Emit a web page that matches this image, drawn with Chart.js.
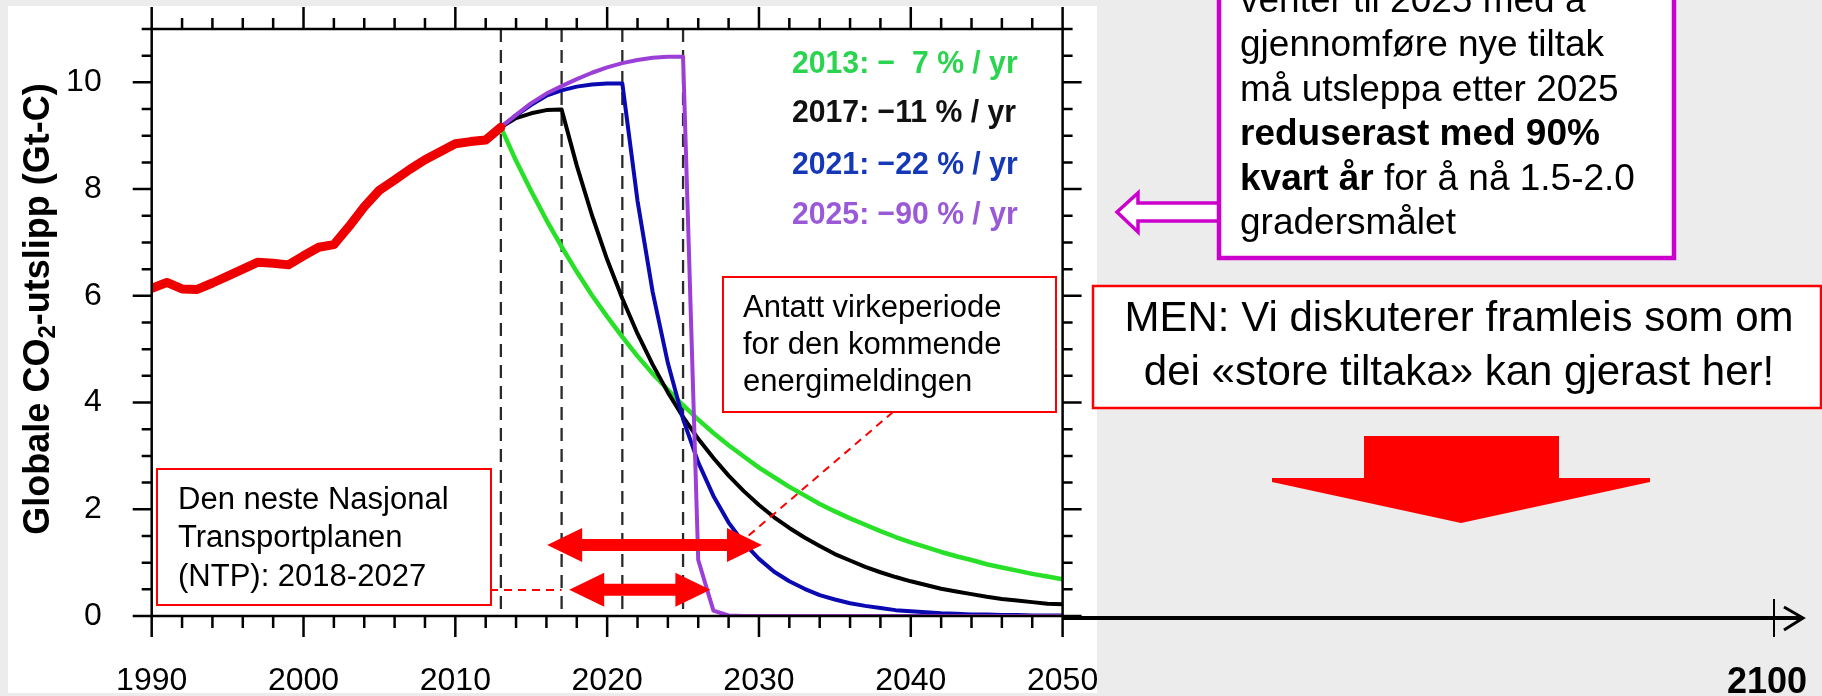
<!DOCTYPE html>
<html>
<head>
<meta charset="utf-8">
<script src="https://cdn.jsdelivr.net/npm/chart.js@4"></script>
<style>
html, body { margin: 0; padding: 0; background: #ececec; overflow: hidden; }
#wrap { width: 1822px; height: 696px; }
</style>
</head>
<body>
<div id="wrap"><canvas id="co2Chart" width="1822" height="696"></canvas></div>
<script>
// historical emissions (red)
const histYears = [1990, 1991, 1992, 1993, 1994, 1995, 1996, 1997, 1998, 1999, 2000, 2001,
    2002, 2003, 2004, 2005, 2006, 2007, 2008, 2009, 2010, 2011, 2012, 2013];
const histEmissions = [6.14, 6.25, 6.13, 6.12, 6.24, 6.37, 6.50, 6.63, 6.61, 6.58, 6.75, 6.91,
    6.96, 7.30, 7.67, 7.98, 8.17, 8.37, 8.55, 8.70, 8.85, 8.89, 8.92, 9.16];

// scenarios, 2013-2050
const scenYears = [2013, 2014, 2015, 2016, 2017, 2018, 2019, 2020, 2021, 2022, 2023, 2024, 2025,
    2026, 2027, 2028, 2029, 2030, 2031, 2032, 2033, 2034, 2035, 2036, 2037, 2038, 2039, 2040,
    2041, 2042, 2043, 2044, 2045, 2046, 2047, 2048, 2049, 2050];
const cut2013 = [9.16, 8.53, 7.96, 7.42, 6.92, 6.45, 6.01, 5.61, 5.23, 4.87, 4.54, 4.24, 3.95,
    3.68, 3.43, 3.20, 2.99, 2.78, 2.60, 2.42, 2.26, 2.10, 1.96, 1.83, 1.71, 1.59, 1.48, 1.38,
    1.29, 1.20, 1.12, 1.05, 0.97, 0.91, 0.85, 0.79, 0.74, 0.69];
const cut2017 = [9.16, 9.33, 9.42, 9.48, 9.49, 8.44, 7.51, 6.68, 5.95, 5.29, 4.71, 4.19, 3.73,
    3.32, 2.96, 2.63, 2.34, 2.08, 1.85, 1.65, 1.47, 1.31, 1.16, 1.04, 0.92, 0.82, 0.73, 0.65,
    0.58, 0.51, 0.46, 0.41, 0.36, 0.32, 0.29, 0.26, 0.23, 0.22];
const cut2021 = [9.16, 9.38, 9.58, 9.75, 9.85, 9.92, 9.96, 9.98, 9.98, 7.78, 6.07, 4.74, 3.69,
    2.88, 2.25, 1.75, 1.37, 1.07, 0.83, 0.65, 0.51, 0.39, 0.31, 0.24, 0.19, 0.15, 0.11, 0.09,
    0.07, 0.05, 0.04, 0.03, 0.03, 0.02, 0.02, 0.01, 0.01, 0.01];
const cut2025 = [9.16, 9.39, 9.61, 9.79, 9.93, 10.06, 10.18, 10.28, 10.36, 10.42, 10.46, 10.48, 10.48,
    1.05, 0.10, 0.01, 0, 0, 0, 0, 0, 0, 0, 0, 0, 0, 0, 0,
    0, 0, 0, 0, 0, 0, 0, 0, 0, 0];

const startYears = [2013, 2017, 2021, 2025];
const legendLabels = ['2013: \u2212  7 % / yr', '2017: \u221211 % / yr', '2021: \u221222 % / yr', '2025: \u221290 % / yr'];
const xTicks = [1990, 2000, 2010, 2020, 2030, 2040, 2050];
const yTicks = [0, 2, 4, 6, 8, 10];

const FONT = '"Liberation Sans", Arial, Helvetica, sans-serif';
const pts = (years, vals) => years.map((y, i) => ({ x: y, y: vals[i] }));

function doubleArrow(ctx, x1, x2, y, shaft, headLen, headHalf) {
    ctx.beginPath();
    ctx.moveTo(x1, y);
    ctx.lineTo(x1 + headLen, y - headHalf);
    ctx.lineTo(x1 + headLen, y - shaft / 2);
    ctx.lineTo(x2 - headLen, y - shaft / 2);
    ctx.lineTo(x2 - headLen, y - headHalf);
    ctx.lineTo(x2, y);
    ctx.lineTo(x2 - headLen, y + headHalf);
    ctx.lineTo(x2 - headLen, y + shaft / 2);
    ctx.lineTo(x1 + headLen, y + shaft / 2);
    ctx.lineTo(x1 + headLen, y + headHalf);
    ctx.closePath();
    ctx.fill();
}

// lines = [[ [text, bold], ... ], ...]
function textLines(ctx, lines, x, y0, step, size, align) {
    ctx.textBaseline = 'middle';
    ctx.fillStyle = '#000';
    lines.forEach((segs, i) => {
        const y = y0 + i * step;
        let w = 0;
        segs.forEach(s => { ctx.font = (s[1] ? 'bold ' : '') + size + 'px ' + FONT; w += ctx.measureText(s[0]).width; });
        let cx = align === 'center' ? x - w / 2 : x;
        ctx.textAlign = 'left';
        segs.forEach(s => {
            ctx.font = (s[1] ? 'bold ' : '') + size + 'px ' + FONT;
            ctx.fillText(s[0], cx, y);
            cx += ctx.measureText(s[0]).width;
        });
    });
}

function box(ctx, x, y, w, h, color, lw) {
    ctx.fillStyle = '#fff';
    ctx.fillRect(x, y, w, h);
    ctx.strokeStyle = color;
    ctx.lineWidth = lw;
    ctx.strokeRect(x, y, w, h);
}

const decor = {
    id: 'decor',
    beforeDraw(chart) {
        const ctx = chart.ctx;
        ctx.save();
        ctx.fillStyle = '#ececec';
        ctx.fillRect(0, 0, chart.width, chart.height);
        ctx.fillStyle = '#fff';
        ctx.fillRect(8, 6, 1089, 687);
        ctx.restore();
    },
    beforeDatasetsDraw(chart) {
        const ctx = chart.ctx, a = chart.chartArea, xs = chart.scales.x;
        ctx.save();
        ctx.strokeStyle = '#2a2a2a';
        ctx.lineWidth = 2.3;
        ctx.setLineDash([13, 8]);
        startYears.forEach(yr => {
            const p = xs.getPixelForValue(yr);
            ctx.beginPath();
            ctx.moveTo(p, a.top);
            ctx.lineTo(p, a.bottom);
            ctx.stroke();
        });
        ctx.restore();
    },
    afterDraw(chart) {
        const ctx = chart.ctx, a = chart.chartArea, xs = chart.scales.x, ys = chart.scales.y;
        ctx.save();

        // frame and ticks
        ctx.strokeStyle = '#000';
        ctx.lineWidth = 2.5;
        ctx.strokeRect(a.left, a.top, a.right - a.left, a.bottom - a.top);
        ctx.beginPath();
        for (let v = 1990; v <= 2050; v += 2) {
            const major = v % 10 === 0, p = xs.getPixelForValue(v);
            ctx.moveTo(p, a.bottom); ctx.lineTo(p, a.bottom + (major ? 21 : 12));
            ctx.moveTo(p, a.top); ctx.lineTo(p, a.top - (major ? 22 : 11));
        }
        for (let v = 0; v <= 11; v += 0.5) {
            const major = v % 2 === 0, p = ys.getPixelForValue(v);
            ctx.moveTo(a.left, p); ctx.lineTo(a.left - (major ? 19 : 10), p);
            ctx.moveTo(a.right, p); ctx.lineTo(a.right + (major ? 19 : 10), p);
        }
        ctx.stroke();

        // axis title
        ctx.save();
        ctx.translate(39, 309);
        ctx.rotate(-Math.PI / 2);
        ctx.fillStyle = '#000';
        ctx.textBaseline = 'middle';
        ctx.textAlign = 'left';
        const big = 'bold 36px ' + FONT, small = 'bold 24px ' + FONT;
        const t1 = 'Globale CO', t2 = '2', t3 = '-utslipp (Gt-C)';
        ctx.font = big; const w1 = ctx.measureText(t1).width, w3 = ctx.measureText(t3).width;
        ctx.font = small; const w2 = ctx.measureText(t2).width;
        let tx = -(w1 + w2 + w3) / 2;
        ctx.font = big; ctx.fillText(t1, tx, 0); tx += w1;
        ctx.font = small; ctx.fillText(t2, tx, 9); tx += w2;
        ctx.font = big; ctx.fillText(t3, tx, 0);
        ctx.restore();

        // in-plot legend (slightly condensed bold)
        const legendColors = ['#2ad44f', '#111111', '#1538b8', '#9a5ad8'];
        const legendY = [64, 113, 165, 215];
        ctx.font = 'bold 32px ' + FONT;
        ctx.textAlign = 'left';
        ctx.textBaseline = 'middle';
        const sx = 224 / ctx.measureText(legendLabels[1]).width;
        legendLabels.forEach((t, i) => {
            ctx.save();
            ctx.translate(792, legendY[i]);
            ctx.scale(sx, 1);
            ctx.fillStyle = legendColors[i];
            ctx.fillText(t, 0, 0);
            ctx.restore();
        });

        // red dashed connectors
        ctx.strokeStyle = '#ff0000';
        ctx.lineWidth = 2;
        ctx.setLineDash([8, 6]);
        ctx.beginPath();
        ctx.moveTo(490, 590); ctx.lineTo(xs.getPixelForValue(2017), 590);
        ctx.moveTo(893, 412); ctx.lineTo(747, 537);
        ctx.stroke();
        ctx.setLineDash([]);

        // double arrows
        ctx.fillStyle = '#ff0000';
        doubleArrow(ctx, xs.getPixelForValue(2016.05), xs.getPixelForValue(2030.2), ys.getPixelForValue(1.33), 12, 35, 17);
        doubleArrow(ctx, xs.getPixelForValue(2017.5), xs.getPixelForValue(2026.8), ys.getPixelForValue(0.49), 12, 35, 17);

        // annotation boxes
        box(ctx, 157, 469, 334, 136, '#ff0000', 2);
        textLines(ctx, [[['Den neste Nasjonal']], [['Transportplanen']], [['(NTP): 2018-2027']]], 178, 500, 38.5, 31, 'left');

        box(ctx, 723, 277, 333, 135, '#ff0000', 2);
        textLines(ctx, [[['Antatt virkeperiode']], [['for den kommende']], [['energimeldingen']]], 743, 308, 37, 31, 'left');

        // extended time axis to 2100
        ctx.strokeStyle = '#000';
        ctx.lineWidth = 4;
        ctx.beginPath();
        ctx.moveTo(a.right, 618); ctx.lineTo(1803, 618);
        ctx.stroke();
        ctx.lineWidth = 3;
        ctx.beginPath();
        ctx.moveTo(1784, 607); ctx.lineTo(1803, 618); ctx.lineTo(1784, 630);
        ctx.stroke();
        ctx.lineWidth = 2;
        ctx.beginPath();
        ctx.moveTo(1774, 599); ctx.lineTo(1774, 637);
        ctx.stroke();
        ctx.fillStyle = '#000';
        ctx.font = 'bold 36px ' + FONT;
        ctx.textAlign = 'center';
        ctx.textBaseline = 'middle';
        ctx.fillText('2100', 1767, 683);

        // hollow purple arrow
        ctx.beginPath();
        ctx.moveTo(1117, 212);
        ctx.lineTo(1138, 193);
        ctx.lineTo(1138, 203);
        ctx.lineTo(1222, 203);
        ctx.lineTo(1222, 221);
        ctx.lineTo(1138, 221);
        ctx.lineTo(1138, 232);
        ctx.closePath();
        ctx.fillStyle = '#fff';
        ctx.fill();
        ctx.strokeStyle = '#cc00cc';
        ctx.lineWidth = 3.5;
        ctx.stroke();

        // purple message box
        box(ctx, 1219, -20, 455, 278, '#cc00cc', 4.5);
        textLines(ctx, [
            [['venter til 2025 med \u00e5']],
            [['gjennomf\u00f8re nye tiltak']],
            [['m\u00e5 utsleppa etter 2025']],
            [['reduserast med 90%', true]],
            [['kvart \u00e5r', true], [' for \u00e5 n\u00e5 1.5-2.0']],
            [['gradersm\u00e5let']]
        ], 1240, 1.5, 44.5, 37, 'left');

        // red message box
        box(ctx, 1093, 286, 728, 122, '#ff0000', 2.5);
        textLines(ctx, [
            [['MEN: Vi diskuterer framleis som om']],
            [['dei \u00abstore tiltaka\u00bb kan gjerast her!']]
        ], 1459, 319, 54, 42, 'center');

        // big red down arrow
        ctx.fillStyle = '#ff0000';
        ctx.beginPath();
        ctx.moveTo(1364, 436);
        ctx.lineTo(1559, 436);
        ctx.lineTo(1559, 478);
        ctx.lineTo(1650, 478);
        ctx.lineTo(1650, 482);
        ctx.lineTo(1461, 523);
        ctx.lineTo(1272, 482);
        ctx.lineTo(1272, 478);
        ctx.lineTo(1364, 478);
        ctx.closePath();
        ctx.fill();

        ctx.restore();
    }
};

const ctx = document.getElementById('co2Chart').getContext('2d');

const co2Chart = new Chart(ctx, {
    type: 'line',
    data: {
        datasets: [
            { label: 'Historisk', data: pts(histYears, histEmissions), borderColor: '#ee0000', borderWidth: 9 },
            { label: legendLabels[3], data: pts(scenYears, cut2025), borderColor: '#9b3fd6', borderWidth: 4 },
            { label: legendLabels[2], data: pts(scenYears, cut2021), borderColor: '#0a0ab0', borderWidth: 4 },
            { label: legendLabels[1], data: pts(scenYears, cut2017), borderColor: '#000000', borderWidth: 4 },
            { label: legendLabels[0], data: pts(scenYears, cut2013), borderColor: '#28e028', borderWidth: 4.5 }
        ]
    },
    options: {
        responsive: false,
        animation: false,
        layout: { padding: { left: 0, top: 29, right: 759.4, bottom: 0 } },
        elements: { point: { radius: 0 }, line: { tension: 0, borderJoinStyle: 'round', borderCapStyle: 'round' } },
        plugins: { legend: { display: false }, tooltip: { enabled: false } },
        scales: {
            x: {
                type: 'linear', min: 1990, max: 2050,
                grid: { display: false }, border: { display: false },
                ticks: { color: '#000', padding: 38, font: { family: FONT, size: 32 }, callback: v => String(v) },
                afterBuildTicks: s => { s.ticks = xTicks.map(v => ({ value: v })); },
                afterFit: s => { s.height = 80; s.paddingLeft = 0; s.paddingRight = 0; }
            },
            y: {
                type: 'linear', min: 0, max: 11,
                grid: { display: false }, border: { display: false },
                ticks: { color: '#000', padding: 42, font: { family: FONT, size: 32 }, callback: v => String(v) },
                afterBuildTicks: s => { s.ticks = yTicks.map(v => ({ value: v })); },
                afterFit: s => { s.width = 151.7; s.paddingTop = 0; s.paddingBottom = 0; }
            }
        }
    },
    plugins: [decor]
});
</script>
</body>
</html>
